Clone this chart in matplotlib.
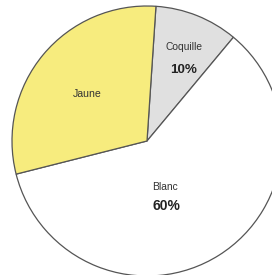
import matplotlib
matplotlib.use("Agg")
import matplotlib.pyplot as plt

categories = ["Coquille", "Blanc", "Jaune"]
values = [10, 60, 30]
show_pct = [True, True, False]
colors = ["#e0e0e0", "#ffffff", "#f7ec7e"]

W, H = 272, 275
fig = plt.figure(figsize=(W / 100, H / 100), dpi=100)
ax = fig.add_axes([0, 0, 1, 1])
plt.rcParams['font.family'] = ['Liberation Sans', 'DejaVu Sans']

cx, cy, R = 147, H - 141, 135
wedges, _ = ax.pie(values, colors=colors, startangle=86.2, counterclock=False,
                   center=(cx, cy), radius=R,
                   wedgeprops=dict(edgecolor="#555555", linewidth=0.9))
ax.set_xlim(0, W)
ax.set_ylim(0, H)
ax.set_aspect("equal")
ax.axis("off")

# label positions (pixel coords from top-left)
name_pos = {"Coquille": (183.5, 47), "Blanc": (165, 187.5), "Jaune": (87, 94)}
pct_pos = {"Coquille": (183.5, 70), "Blanc": (166, 205.5)}
name_size = {"Coquille": 7.4, "Blanc": 7.4, "Jaune": 7.6}
pct_size = {"Coquille": 9.7, "Blanc": 10}

total = sum(values)
for cat, v, sp in zip(categories, values, show_pct):
    x, y = name_pos[cat]
    ax.text(x, H - y, cat, ha="center", va="center", fontsize=name_size[cat], color="#333333")
    if sp:
        x, y = pct_pos[cat]
        ax.text(x, H - y, f"{round(100 * v / total)}%", ha="center", va="center",
                fontsize=pct_size[cat], fontweight="bold", color="#222222")

fig.savefig("out.png", dpi=100)
